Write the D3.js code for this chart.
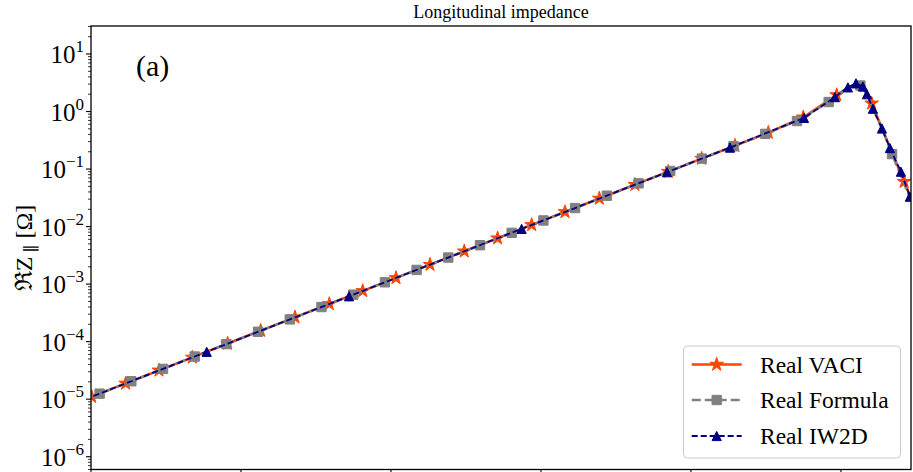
<!DOCTYPE html>
<html><head><meta charset="utf-8">
<script src="https://cdn.jsdelivr.net/npm/d3@7"></script>
<style>
html,body{margin:0;padding:0;background:#fff;}
svg{display:block;}
</style></head>
<body>
<svg id="chart" width="913" height="472" font-family="Liberation Serif, DejaVu Serif, serif"></svg>
<script>
// ---- data (frequency in Hz, impedance in Ohm) ----
// points shown with a marker
const vaciFreq = [1.011e5,1.703e5,2.84e5,4.74e5,8.15e5,1.353e6,2.29e6,3.88e6,6.48e6,1.08e7,1.82e7,3.08e7,5.14e7,8.67e7,1.445e8,2.45e8,4.23e8,7.06e8,1.179e9,1.965e9,3.28e9,5.61e9,9.36e9,1.602e10,2.64e10,4.43e10];
const vaciReal = [1.104e-5,1.879e-5,3.17e-5,5.32e-5,9.27e-5,1.556e-4,2.65e-4,4.53e-4,7.62e-4,1.282e-3,2.18e-3,3.73e-3,6.28e-3,1.069e-2,1.80e-2,3.08e-2,5.36e-2,9.02e-2,0.152,0.255,0.430,0.796,1.94,1.39,0.0603,2.5e-3];
// extra line points between markers (resonance region)
const vaciExtraFreq = [1.113e10,1.259e10,1.402e10,1.49e10];
const vaciExtraReal = [2.6,3.0,2.7,2.0];

const formulaFreq = [7.01e4,1.141e5,1.857e5,3.02e5,4.91e5,7.99e5,1.300e6,2.115e6,3.44e6,5.60e6,9.11e6,1.482e7,2.41e7,3.92e7,6.38e7,1.038e8,1.688e8,2.75e8,4.47e8,7.27e8,1.182e9,1.923e9,3.13e9,5.09e9,8.28e9,1.347e10,2.19e10,3.56e10];
const formulaReal = [7.62e-6,1.249e-5,2.049e-5,3.36e-5,5.51e-5,9.05e-5,1.485e-4,2.435e-4,3.996e-4,6.56e-4,1.076e-3,1.765e-3,2.895e-3,4.75e-3,7.79e-3,1.279e-2,2.098e-2,3.44e-2,5.65e-2,9.26e-2,0.152,0.249,0.409,0.684,1.462,2.83,0.182,8.3e-3];
const formulaExtraFreq = [1.113e10,1.259e10,1.49e10,1.634e10,1.876e10];
const formulaExtraReal = [2.6,3.0,2.0,1.12,0.507];

const iw2dFreq = [6.21e4,5.91e5,5.25e6,7.43e7,6.92e8,1.82e9,5.67e9,9.12e9,1.113e10,1.259e10,1.402e10,1.490e10,1.634e10,1.876e10,2.12e10,2.51e10,2.88e10,3.36e10];
const iw2dReal = [6.73e-6,6.65e-5,6.14e-4,9.12e-3,8.81e-2,0.236,0.776,1.78,2.63,3.09,2.72,2.0,1.12,0.507,0.232,0.090,0.0331,0.0129];
const iw2dExtraFreq = [];
const iw2dExtraReal = [];

const xTickValues = [1e5,1e6,1e7,1e8,1e9,1e10];
const yTickExponents = [-6,-5,-4,-3,-2,-1,0,1];
const seriesNames = ["Real VACI","Real Formula","Real IW2D"];
const titleText = "Longitudinal impedance";
const panelLabel = "(a)";

// ---- layout ----
const svg = d3.select("#chart");
const L = 91, R = 911, T = 26, B = 469.5;

const x = d3.scaleLog().domain([1e5, Math.pow(10, 10.467)]).range([L, R]);
const y = d3.scaleLog().domain([Math.pow(10, -6.2225), Math.pow(10, 1.4867)]).range([B, T]);

svg.append("defs").append("clipPath").attr("id","clip")
  .append("rect").attr("x",L).attr("y",T).attr("width",R-L).attr("height",B-T);

// title
svg.append("text").attr("x",(L+R)/2).attr("y",18).attr("text-anchor","middle")
  .attr("font-size",18).text(titleText);

// marker shapes
const starSym = d3.symbol().type(d3.symbolStar).size(58);
const squareSym = d3.symbol().type(d3.symbolSquare).size(88);
const triPath = r => `M0,${-r}L${r},${r}L${-r},${r}Z`;

const series = [
  {name: seriesNames[0], f: vaciFreq, v: vaciReal, ef: vaciExtraFreq, ev: vaciExtraReal, color: "#ff4500", width: 2.5, dash: null, marker: "star"},
  {name: seriesNames[1], f: formulaFreq, v: formulaReal, ef: formulaExtraFreq, ev: formulaExtraReal, color: "#808080", width: 2.5, dash: "9,4", marker: "square"},
  {name: seriesNames[2], f: iw2dFreq, v: iw2dReal, ef: iw2dExtraFreq, ev: iw2dExtraReal, color: "#000080", width: 1.8, dash: "6,3", marker: "tri"}
];

function markerPath(m){
  if (m === "star") return starSym();
  if (m === "square") return squareSym();
  return triPath(4.6);
}

const plot = svg.append("g").attr("clip-path","url(#clip)");
const line = d3.line().x(d => x(d[0])).y(d => y(d[1]));

series.forEach(s => {
  const pts = s.f.map((f,i) => [f, s.v[i]]);
  const linePts = pts.concat(s.ef.map((f,i) => [f, s.ev[i]])).sort((a,b) => a[0]-b[0]);
  const g = plot.append("g");
  g.append("path").datum(linePts).attr("d", line).attr("fill","none")
    .attr("stroke", s.color).attr("stroke-width", s.width)
    .attr("stroke-dasharray", s.dash).attr("stroke-linejoin","round");
  g.selectAll("path.m").data(pts).enter().append("path").attr("class","m")
    .attr("transform", d => `translate(${x(d[0])},${y(d[1])})`)
    .attr("d", markerPath(s.marker)).attr("fill", s.color).attr("stroke", s.color).attr("stroke-width",1);
});

// axes frame
svg.append("rect").attr("x",L).attr("y",T).attr("width",R-L).attr("height",B-T)
  .attr("fill","none").attr("stroke","#000").attr("stroke-width",1.3);

// y ticks
const yAxis = svg.append("g");
yTickExponents.forEach(e => {
  const v = Math.pow(10, e);
  const py = y(v);
  yAxis.append("line").attr("x1",L-5).attr("x2",L).attr("y1",py).attr("y2",py)
    .attr("stroke","#000").attr("stroke-width",1.1);
  const t = yAxis.append("text").attr("x",84).attr("y",py+9).attr("text-anchor","end")
    .attr("font-size",25);
  t.append("tspan").text("10");
  t.append("tspan").attr("dy",-11).attr("font-size",17).text(e < 0 ? "\u2212" + Math.abs(e) : String(e));
});
// minor y ticks
const [y0, y1] = y.domain();
for (let e = -7; e <= 1; e++) {
  for (let k = 2; k <= 9; k++) {
    const v = k * Math.pow(10, e);
    if (v < y0 || v > y1) continue;
    const py = y(v);
    yAxis.append("line").attr("x1",L-3).attr("x2",L).attr("y1",py).attr("y2",py)
      .attr("stroke","#000").attr("stroke-width",0.8);
  }
}
// x ticks (labels cropped in original)
xTickValues.forEach(v => {
  const px = x(v);
  svg.append("line").attr("x1",px).attr("x2",px).attr("y1",B).attr("y2",B+5)
    .attr("stroke","#000").attr("stroke-width",1.1);
});

// y label
const yl = svg.append("text").attr("transform","translate(32,248) rotate(-90)")
  .attr("text-anchor","middle").attr("font-size",24);
yl.append("tspan").text("\u211CZ");
yl.append("tspan").attr("dy",5).attr("font-size",17).text(" \u2225");
yl.append("tspan").attr("dy",-5).text(" [\u03A9]");

// panel label
svg.append("text").attr("x",136).attr("y",76).attr("font-size",30).text(panelLabel);

// legend
const lg = svg.append("g");
lg.append("rect").attr("x",683.5).attr("y",346).attr("width",217).attr("height",112)
  .attr("rx",4).attr("fill","#fff").attr("fill-opacity",0.8).attr("stroke","#cccccc").attr("stroke-width",1);
const rowsY = [364.5, 400, 436];
series.forEach((s,i) => {
  const ry = rowsY[i];
  lg.append("line").attr("x1",691.7).attr("x2",741.7).attr("y1",ry).attr("y2",ry)
    .attr("stroke",s.color).attr("stroke-width",s.width).attr("stroke-dasharray",s.dash);
  lg.append("path").attr("transform",`translate(716.7,${ry})`).attr("d",markerPath(s.marker))
    .attr("fill",s.color).attr("stroke",s.color).attr("stroke-width",1);
  lg.append("text").attr("x",760).attr("y",ry+8).attr("font-size",23.5).text(s.name);
});
</script>
</body></html>
